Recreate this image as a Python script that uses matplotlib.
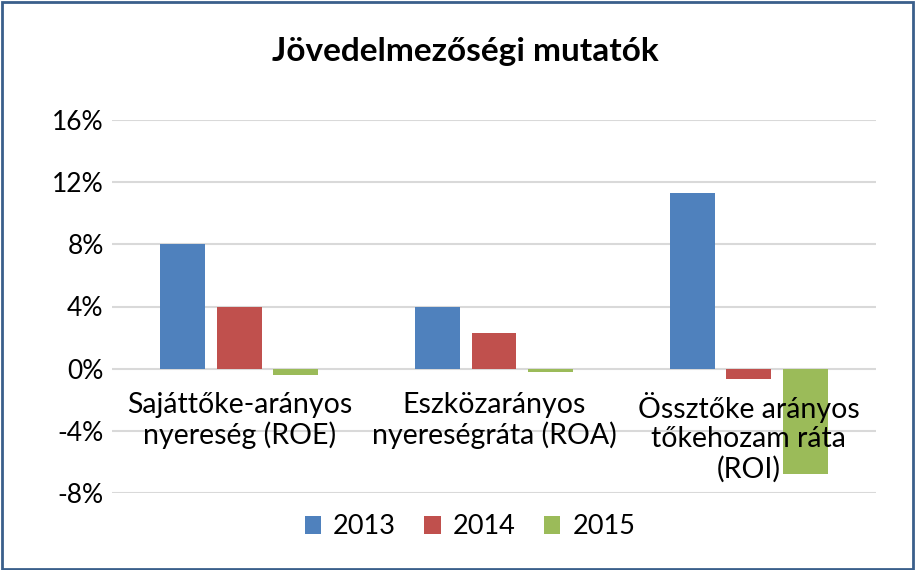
import matplotlib
matplotlib.use("Agg")
import matplotlib.pyplot as plt
from matplotlib.patches import Rectangle, Patch
import numpy as np

categories = ["Sajáttőke-arányos\nnyereség (ROE)",
              "Eszközarányos\nnyereségráta (ROA)",
              "Össztőke arányos\ntőkehozam ráta\n(ROI)"]
series_names = ["2013", "2014", "2015"]
v2013 = [8.0, 4.0, 11.3]
v2014 = [4.0, 2.3, -0.65]
v2015 = [-0.4, -0.2, -6.75]
yticks = [-8, -4, 0, 4, 8, 12, 16]
colors = ["#4F81BD", "#C0504D", "#9BBB59"]

plt.rcParams['font.family'] = ['Lato', 'DejaVu Sans']

fig = plt.figure(figsize=(9.17, 5.70), dpi=100)
ax = fig.add_axes([112/917, 1-493/570, (876-112)/917, (493-120)/570])

x = np.arange(len(categories))
bw = 45/254.7
step = 56.5/254.7
for i, (vals, c, name) in enumerate(zip([v2013, v2014, v2015], colors, series_names)):
    ax.bar(x + (i-1)*step, vals, width=bw, color=c, label=name, zorder=3)

ax.set_xlim(-0.5, 2.5)
ax.set_ylim(-8, 16)
ax.set_yticks(yticks)
ax.set_yticklabels([f"{t}%" for t in yticks], fontsize=19)
ax.tick_params(axis='y', length=0, pad=6)
ax.set_xticks([])
for s in ax.spines.values():
    s.set_visible(False)
ax.grid(axis='y', color='#D9D9D9', linewidth=1.5, zorder=0)

for i, lab in enumerate(categories):
    ax.annotate(lab, xy=(i, 0), xytext=(0, -17), textcoords='offset points',
                ha='center', va='top', fontsize=20.5, linespacing=1.15, zorder=4)

fig.text(465/917, 1-52/570, "Jövedelmezőségi mutatók", ha='center', va='center',
         fontsize=24, fontweight='bold')

handles = [Patch(facecolor=c, label=n) for c, n in zip(colors, series_names)]
fig.legend(handles=handles, loc='center', bbox_to_anchor=(470/917, 1-527/570),
           ncol=3, frameon=False, fontsize=19.5, handlelength=0.6, handleheight=0.6,
           handletextpad=0.45, columnspacing=1.05)

fig.patches.append(Rectangle((0.002, 0.002), 0.994, 0.994, transform=fig.transFigure,
                             fill=False, edgecolor='#3A5F8B', linewidth=2))

fig.savefig("out.png", dpi=100)
